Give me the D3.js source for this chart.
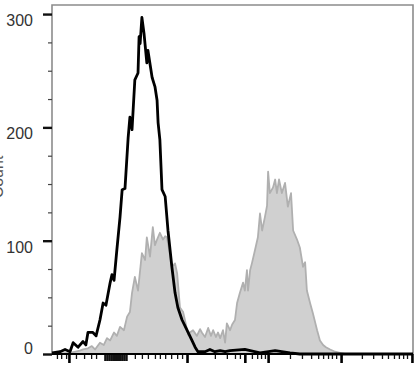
<!DOCTYPE html>
<html>
<head>
<meta charset="utf-8">
<script src="https://cdn.jsdelivr.net/npm/d3@7"></script>
<style>
  body { margin: 0; background: #fff; }
  svg { display: block; font-family: "Liberation Sans", Arial, sans-serif; }
</style>
</head>
<body>
<div id="histo"></div>
<script>
/* flow histogram: stained (grey fill) vs control (black line) */

// display channels 0..1024 on the x axis, counts on y
const grayChannel = [0, 51, 79, 88, 102, 113, 122, 136, 147, 156, 165, 176, 184, 193, 204, 213, 221, 227, 235, 244,
    250, 255, 264, 269, 278, 286, 292, 298, 306, 315, 321, 326, 335, 340, 349, 355, 363, 372, 377, 386,
    391, 400, 411, 420, 425, 434, 443, 451, 457, 465, 471, 477, 485, 491, 496, 505, 511, 519, 525, 533,
    542, 547, 553, 556, 562, 567, 576, 584, 590, 596, 604, 610, 613, 618, 627, 633, 638, 644, 652, 661,
    669, 678, 684, 695, 703, 712, 718, 723, 732, 740, 752, 760, 769, 777, 789, 803, 817, 831, 1024];
const grayCount = [0, 1, 3, 4, 5, 7, 4, 10, 8, 14, 12, 19, 16, 24, 21, 33, 37, 54, 68, 56,
    74, 89, 83, 103, 86, 112, 96, 101, 107, 101, 104, 103, 87, 77, 80, 71, 41, 37, 30, 17,
    19, 21, 16, 22, 19, 15, 23, 16, 21, 15, 19, 14, 21, 10, 27, 21, 26, 30, 45, 54,
    63, 56, 74, 56, 74, 80, 92, 103, 124, 109, 121, 131, 161, 142, 147, 154, 142, 154, 142, 151,
    130, 142, 109, 101, 94, 77, 81, 56, 45, 36, 21, 12, 8, 6, 4, 2, 1, 0, 0];

const blackChannel = [0, 23, 37, 51, 60, 74, 88, 96, 102, 116, 125, 136, 145, 153, 165, 170, 176, 184, 193, 199,
    207, 216, 221, 227, 235, 244, 247, 250, 255, 261, 269, 272, 284, 292, 298, 301, 306, 312, 321, 329,
    340, 349, 357, 369, 383, 397, 406, 414, 434, 448, 462, 477, 491, 505, 547, 590, 633, 675, 703, 1024];
const blackCount = [1, 2, 4, 2, 10, 6, 11, 8, 19, 19, 16, 30, 45, 43, 63, 70, 65, 92, 121, 145,
    146, 191, 209, 198, 242, 248, 280, 274, 297, 283, 257, 268, 244, 236, 224, 204, 189, 145, 139, 109,
    77, 54, 41, 30, 21, 12, 6, 2, 2, 4, 2, 3, 2, 3, 4, 1, 3, 1, 0, 0];

const yTicks = [0, 100, 200, 300];
const yMinor = [25, 50, 75, 125, 150, 175, 225, 250, 275];
const xMajor = [48, 383, 547, 613, 820, 1021];
const xMinor = [14, 26, 40, 68, 91, 111, 125, 235, 255, 272, 292, 306, 321, 338, 355, 369,
    462, 496, 519, 533, 567, 582, 593, 604, 675, 709, 735, 755, 769, 783, 794, 806,
    879, 911, 936, 953, 970, 984, 996, 1007];
const xCluster = [150, 156, 162, 168, 174, 180, 186, 192, 198, 204, 210];

const width = 418,
      height = 375,
      margin = ({ top: 5, right: 5, bottom: 21, left: 52 });

let svg = d3.select("#histo")
    .append("svg")
    .attr("width", width)
    .attr("height", height);

let x = d3.scaleLinear()
    .domain([0, 1024])
    .range([margin.left, width - margin.right]);

let y = d3.scaleLinear()
    .domain([0, 308])
    .range([height - margin.bottom, margin.top]);

const gray = grayChannel.map((c, i) => [c, grayCount[i]]);
const black = blackChannel.map((c, i) => [c, blackCount[i]]);

// frame: grey left / top / right
svg.append("path")
    .attr("d", `M${x(0)},${y(0)}V${y(308)}H${x(1024)}V${y(0)}`)
    .attr("fill", "none")
    .attr("stroke", "#8c8c8c")
    .attr("stroke-width", 1.6);

svg.append("path")
    .datum(gray)
    .attr("fill", "#d0d0d0")
    .attr("stroke", "#b0b0b0")
    .attr("stroke-width", 1.8)
    .attr("stroke-linejoin", "round")
    .attr("d", d3.area().x(d => x(d[0])).y0(y(0)).y1(d => y(d[1])));

svg.append("path")
    .datum(black)
    .attr("fill", "none")
    .attr("stroke", "#000")
    .attr("stroke-width", 2.8)
    .attr("stroke-linejoin", "round")
    .attr("d", d3.line().x(d => x(d[0])).y(d => y(d[1])));

// y axis
let yAxis = svg.append("g")
    .attr("transform", `translate(${margin.left},0)`)
    .call(d3.axisLeft(y).tickValues(yTicks).tickSize(9).tickPadding(10));
yAxis.select(".domain").remove();
yAxis.selectAll(".tick line").attr("stroke", "#111").attr("stroke-width", 2.4);
yAxis.selectAll(".tick text")
    .attr("fill", "#333")
    .style("font-size", "16px")
    .attr("dy", d => d == 0 ? "-0.05em" : "0.72em");

let yAxisMinor = svg.append("g")
    .attr("transform", `translate(${margin.left},0)`)
    .call(d3.axisLeft(y).tickValues(yMinor).tickSize(4).tickFormat(""));
yAxisMinor.select(".domain").remove();
yAxisMinor.selectAll(".tick line").attr("stroke", "#444").attr("stroke-width", 1.2);

// x axis (biex style ticks, no labels)
const base = height - margin.bottom;
let xMinorAxis = svg.append("g")
    .attr("transform", `translate(0,${base})`)
    .call(d3.axisBottom(x).tickValues(xMinor).tickSize(5).tickFormat(""));
xMinorAxis.select(".domain").remove();
xMinorAxis.selectAll(".tick line").attr("stroke", "#111").attr("stroke-width", 1.3);

let xClusterAxis = svg.append("g")
    .attr("transform", `translate(0,${base})`)
    .call(d3.axisBottom(x).tickValues(xCluster).tickSize(7).tickFormat(""));
xClusterAxis.select(".domain").remove();
xClusterAxis.selectAll(".tick line").attr("stroke", "#111").attr("stroke-width", 2.4);

let xMajorAxis = svg.append("g")
    .attr("transform", `translate(0,${base})`)
    .call(d3.axisBottom(x).tickValues(xMajor).tickSize(9).tickFormat(""));
xMajorAxis.select(".domain").remove();
xMajorAxis.selectAll(".tick line").attr("stroke", "#000").attr("stroke-width", 2.6);

svg.append("line")
    .attr("x1", x(0))
    .attr("x2", x(1024))
    .attr("y1", base)
    .attr("y2", base)
    .attr("stroke", "#000")
    .attr("stroke-width", 2.2);

// y label, mostly cut off at the left edge like the original
svg.append("text")
    .attr("transform", `translate(3,177) rotate(-90)`)
    .attr("text-anchor", "middle")
    .attr("fill", "#555")
    .style("font-size", "16px")
    .text("Count");
</script>
</body>
</html>
